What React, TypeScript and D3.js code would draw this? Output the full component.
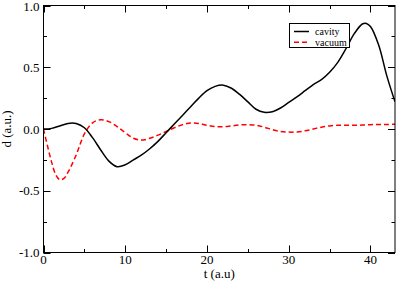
import React from 'react';
import * as d3 from 'd3';

// time axis (a.u.) and the two dipole curves
const tCavity = [0, 1, 2, 3, 3.5, 4, 5, 6, 7, 8, 9, 10, 11, 12, 13, 14, 15, 16, 17, 18, 19, 20, 21, 22, 23, 24, 25, 26, 27, 28, 29, 30, 31, 32, 33, 34, 35, 36, 37, 38, 39, 39.5, 40, 41, 42, 43];
const dCavity = [0, 0.005, 0.025, 0.045, 0.049, 0.045, 0.01, -0.07, -0.17, -0.26, -0.305, -0.29, -0.25, -0.21, -0.16, -0.1, -0.03, 0.04, 0.11, 0.18, 0.25, 0.31, 0.345, 0.355, 0.33, 0.28, 0.22, 0.16, 0.135, 0.14, 0.17, 0.215, 0.26, 0.31, 0.36, 0.4, 0.46, 0.54, 0.65, 0.77, 0.85, 0.855, 0.83, 0.68, 0.43, 0.22];

const tVacuum = [0, 0.5, 1, 1.5, 2, 2.5, 3, 4, 5, 6, 7, 8, 9, 10, 11, 12, 13, 14, 15, 16, 17, 18, 19, 20, 21, 22, 23, 24, 25, 26, 27, 28, 29, 30, 31, 32, 33, 34, 35, 36, 37, 38, 39, 40, 41, 42, 43];
const dVacuum = [0, -0.14, -0.27, -0.37, -0.41, -0.4, -0.35, -0.21, -0.04, 0.05, 0.075, 0.06, 0.02, -0.03, -0.075, -0.09, -0.075, -0.05, -0.02, 0.01, 0.035, 0.048, 0.045, 0.03, 0.02, 0.018, 0.025, 0.033, 0.035, 0.03, 0.015, -0.005, -0.02, -0.025, -0.024, -0.015, 0, 0.015, 0.025, 0.03, 0.03, 0.03, 0.032, 0.035, 0.036, 0.037, 0.038];

const xMajor = [0, 10, 20, 30, 40];
const xMinor = [5, 15, 25, 35];
const yMajor = [-1, -0.5, 0, 0.5, 1];
const yMinor = [-0.75, -0.25, 0.25, 0.75];
const yLabels = ['-1.0', '-0.5', '0.0', '0.5', '1.0'];

const legendNames = ['cavity', 'vacuum'];

const serif = "'Liberation Serif', 'DejaVu Serif', 'Times New Roman', serif";

export default function App() {
  const width = 397;
  const height = 283;
  const left = 43.5, right = 395, top = 5.5, bottom = 252.5;

  const x = d3.scaleLinear().domain([0, 43]).range([left, right]);
  const y = d3.scaleLinear().domain([-1, 1]).range([bottom, top]);

  const line = d3.line<[number, number]>()
    .curve(d3.curveCatmullRom.alpha(0.5))
    .x(d => x(d[0]))
    .y(d => y(d[1]));

  const cavPath = line(tCavity.map((t, i) => [t, dCavity[i]] as [number, number]));
  const vacPath = line(tVacuum.map((t, i) => [t, dVacuum[i]] as [number, number]));

  const major = 7, minor = 3.5;
  const px = (v: number) => Math.round(v) + 0.5;

  return <div style={{position: 'absolute', left: 0, top: 0}}>
    <svg width={width} height={height} style={{display: 'block', background: '#fff'}}>
      <defs>
        <clipPath id="plot">
          <rect x={left} y={top} width={right - left} height={bottom - top} />
        </clipPath>
      </defs>

      <g clipPath="url(#plot)" fill="none" strokeWidth="1.5">
        <path d={vacPath} stroke="#ff0000" strokeDasharray="5,3" />
        <path d={cavPath} stroke="#000" />
      </g>

      {/* frame and ticks */}
      <rect x={left} y={top} width={right - left} height={bottom - top} fill="none" stroke="#000" strokeWidth="1" />
      <g stroke="#000" strokeWidth="1">
        {xMajor.map(v => <g key={'xM' + v}>
          <line x1={px(x(v))} x2={px(x(v))} y1={bottom} y2={bottom - major} />
          <line x1={px(x(v))} x2={px(x(v))} y1={top} y2={top + major} />
        </g>)}
        {xMinor.map(v => <g key={'xm' + v}>
          <line x1={px(x(v))} x2={px(x(v))} y1={bottom} y2={bottom - minor} />
          <line x1={px(x(v))} x2={px(x(v))} y1={top} y2={top + minor} />
        </g>)}
        {yMajor.map(v => <g key={'yM' + v}>
          <line x1={left} x2={left + major} y1={px(y(v))} y2={px(y(v))} />
          <line x1={right} x2={right - major} y1={px(y(v))} y2={px(y(v))} />
        </g>)}
        {yMinor.map(v => <g key={'ym' + v}>
          <line x1={left} x2={left + minor} y1={px(y(v))} y2={px(y(v))} />
          <line x1={right} x2={right - minor} y1={px(y(v))} y2={px(y(v))} />
        </g>)}
      </g>

      {/* tick labels and titles */}
      <g fontFamily={serif} fontSize="13" fill="#000">
        {xMajor.map(v => <text key={'xl' + v} x={x(v)} y={263.5} textAnchor="middle">{v}</text>)}
        {yMajor.map((v, i) => <text key={'yl' + v} x={left - 4} y={y(v) + 4.5 + (i === 4 ? 0.8 : 0)} textAnchor="end">{yLabels[i]}</text>)}
        <text x={(left + right) / 2} y={278} textAnchor="middle">t (a.u)</text>
        <text transform={`translate(11,${(top + bottom) / 2}) rotate(-90)`} textAnchor="middle">d (a.u.)</text>
      </g>

      {/* legend */}
      <g fontFamily={serif}>
        <rect x={289.5} y={23.5} width={60} height={24} fill="#fff" stroke="#000" strokeWidth="1" />
        {legendNames.map((name, i) => <g key={name}>
          <line x1={294} x2={309} y1={31.5 + i * 10.7} y2={31.5 + i * 10.7}
            stroke={i === 0 ? '#000' : '#ff0000'} strokeWidth="1.5"
            strokeDasharray={i === 0 ? undefined : '5,3'} />
          <text x={315} y={35 + i * 10.7} fontSize="10">{name}</text>
        </g>)}
      </g>
    </svg>
  </div>;
}
